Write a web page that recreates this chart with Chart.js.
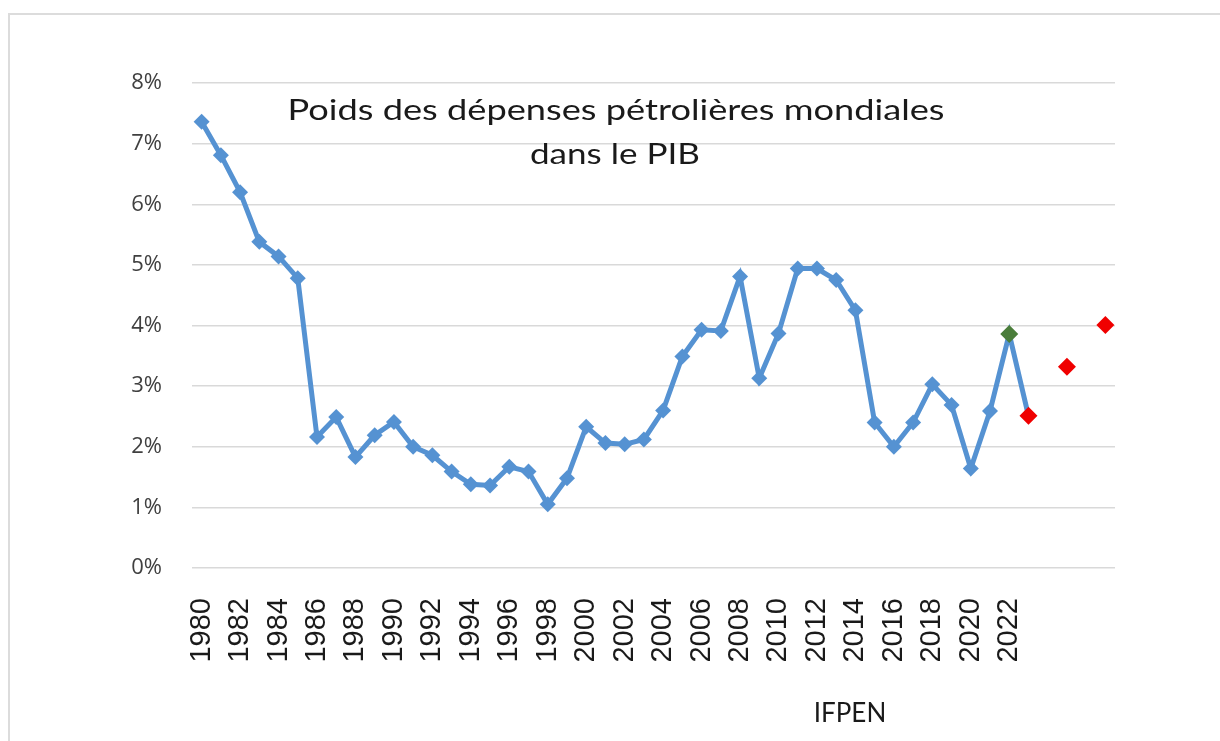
<!DOCTYPE html>
<html lang="fr">
<head>
  <meta charset="UTF-8">
  <title>Poids des dépenses pétrolières mondiales dans le PIB</title>
  <script src="https://cdn.jsdelivr.net/npm/chart.js"></script>
  <style>
    body {
      margin: 0;
      background: #fff;
      overflow: hidden;
    }
    .frame {
      position: absolute;
      left: 8px;
      top: 13px;
      width: 1300px;
      height: 800px;
      border-left: 2px solid #dcdcdc;
      border-top: 2px solid #dcdcdc;
    }
    #oilChart {
      position: absolute;
      left: 0;
      top: 0;
    }
  </style>
</head>
<body>
  <div class="frame"></div>
  <canvas id="oilChart" width="1220" height="741"></canvas>
  <script>
    // années (les 4 dernières n'ont pas d'étiquette sur l'axe)
    const years = [1980, 1981, 1982, 1983, 1984, 1985, 1986, 1987, 1988, 1989,
      1990, 1991, 1992, 1993, 1994, 1995, 1996, 1997, 1998, 1999,
      2000, 2001, 2002, 2003, 2004, 2005, 2006, 2007, 2008, 2009,
      2010, 2011, 2012, 2013, 2014, 2015, 2016, 2017, 2018, 2019,
      2020, 2021, 2022, 2023, 2024, 2025, 2026, 2027];
    const lastLabelYear = 2022;

    // poids des dépenses pétrolières dans le PIB (%), 1980 -> 2023
    const oilShare = [7.36, 6.81, 6.20, 5.38, 5.14, 4.78, 2.16, 2.49, 1.83, 2.19,
      2.41, 2.00, 1.86, 1.59, 1.38, 1.36, 1.67, 1.59, 1.05, 1.48,
      2.33, 2.06, 2.04, 2.12, 2.60, 3.49, 3.93, 3.91, 4.81, 3.13,
      3.87, 4.94, 4.94, 4.75, 4.25, 2.40, 2.00, 2.40, 3.03, 2.69,
      1.64, 2.59, 3.86, 2.51];

    // projections (points isolés)
    const projYears = [2025, 2027];
    const projValues = [3.32, 4.01];

    const highlightGreen = 2022;
    const highlightRed = 2023;

    const yTicks = [0, 1, 2, 3, 4, 5, 6, 7, 8];

    const BLUE = '#5592d2';
    const GREEN = '#4a7d3a';
    const RED = '#f00000';

    const mainData = years.map((y, i) => i < oilShare.length ? oilShare[i] : null);
    const projData = years.map(y => {
      const k = projYears.indexOf(y);
      return k >= 0 ? projValues[k] : null;
    });
    const pointColors = years.map(y => y === highlightGreen ? GREEN : (y === highlightRed ? RED : BLUE));
    const pointRadii = years.map(y => (y === highlightGreen || y === highlightRed) ? 9 : 8);

    // texte étiré horizontalement pour tenir dans une largeur donnée
    function stretchedText(ctx, txt, cx, y, width) {
      const w = ctx.measureText(txt).width;
      ctx.save();
      ctx.translate(cx, y);
      ctx.scale(width / w, 1);
      ctx.fillText(txt, 0, 0);
      ctx.restore();
    }

    // titre dans la zone du graphique + source
    const textPlugin = {
      id: 'texts',
      afterDraw(chart) {
        const ctx = chart.ctx;
        ctx.save();
        ctx.fillStyle = '#1a1a1a';
        ctx.textAlign = 'center';
        ctx.textBaseline = 'alphabetic';
        ctx.font = '29px Lato';
        stretchedText(ctx, 'Poids des dépenses pétrolières mondiales', 616, 120, 657);
        stretchedText(ctx, 'dans le PIB', 615, 164, 170);
        ctx.font = '26px Lato';
        ctx.fillText('IFPEN', 850, 722);
        ctx.restore();
      }
    };

    new Chart(document.getElementById('oilChart').getContext('2d'), {
      type: 'line',
      data: {
        labels: years.map(String),
        datasets: [{
          label: 'Poids',
          data: mainData,
          borderColor: BLUE,
          borderWidth: 5,
          pointStyle: 'rectRot',
          pointRadius: pointRadii,
          pointBackgroundColor: pointColors,
          pointBorderColor: pointColors,
          pointBorderWidth: 0,
          tension: 0,
          spanGaps: false
        }, {
          label: 'Projection',
          data: projData,
          showLine: false,
          pointStyle: 'rectRot',
          pointRadius: 9,
          pointBackgroundColor: RED,
          pointBorderColor: RED,
          pointBorderWidth: 0
        }]
      },
      options: {
        responsive: false,
        animation: false,
        devicePixelRatio: 1,
        layout: { padding: { left: 0, top: 83, right: 105, bottom: 0 } },
        plugins: {
          legend: { display: false },
          tooltip: { enabled: false }
        },
        scales: {
          x: {
            offset: true,
            grid: { display: false },
            border: { display: false },
            ticks: {
              autoSkip: false,
              maxRotation: 90,
              minRotation: 90,
              padding: 22,
              color: '#1a1a1a',
              font: { family: 'Liberation Sans', size: 29 },
              callback: function (value, index) {
                const y = years[index];
                return (index % 2 === 0 && y <= lastLabelYear) ? String(y) : '';
              }
            },
            afterFit: function (scale) { scale.height = 741 - 568; }
          },
          y: {
            min: yTicks[0],
            max: yTicks[yTicks.length - 1],
            border: { display: false },
            grid: { color: '#d9d9d9', lineWidth: 1.5, drawTicks: false },
            afterBuildTicks: function (scale) { scale.ticks = yTicks.map(v => ({ value: v })); },
            ticks: {
              padding: 30,
              color: '#404040',
              font: { family: 'Open Sans', size: 22 },
              callback: v => v + '%'
            },
            afterFit: function (scale) { scale.width = 192; }
          }
        }
      },
      plugins: [textPlugin]
    });
  </script>
</body>
</html>
